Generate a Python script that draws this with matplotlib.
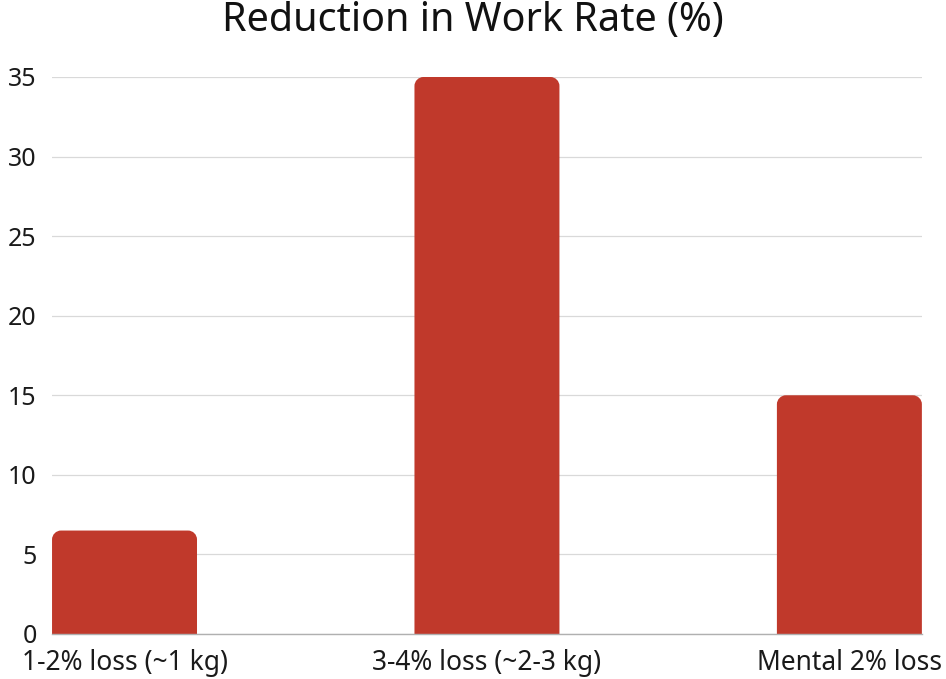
import matplotlib
matplotlib.use('Agg')
import matplotlib.pyplot as plt
from matplotlib.path import Path
from matplotlib.patches import PathPatch

plt.rcParams['font.family'] = ['Noto Sans', 'DejaVu Sans']

# ── data ──────────────────────────────────────────────────────────────
categories = ['1-2% loss (~1 kg)', '3-4% loss (~2-3 kg)', 'Mental 2% loss']
values = [6.5, 35, 15]
yticks = [0, 5, 10, 15, 20, 25, 30, 35]
title = 'Reduction in Work Rate (%)'
bar_color = '#C0392B'

fig = plt.figure(figsize=(9.46, 6.79), dpi=100)
ax = fig.add_axes([0.055, 0.0663, 0.9195, 0.8203])

ax.set_xlim(-0.2, len(categories) - 1 + 0.2)
ax.set_ylim(0, 35)
width = 0.4

# pixel -> data scale for rounded corners
fig.canvas.draw()
bb = ax.get_window_extent()
px_x = (ax.get_xlim()[1] - ax.get_xlim()[0]) / bb.width
px_y = (ax.get_ylim()[1] - ax.get_ylim()[0]) / bb.height
r = 9
rx, ry = r * px_x, r * px_y
k = 0.5523

for i, v in enumerate(values):
    x0, x1 = i - width / 2, i + width / 2
    verts = [(x0, 0), (x0, v - ry),
             (x0, v - ry + k * ry), (x0 + rx - k * rx, v), (x0 + rx, v),
             (x1 - rx, v),
             (x1 - rx + k * rx, v), (x1, v - ry + k * ry), (x1, v - ry),
             (x1, 0), (x0, 0)]
    codes = [Path.MOVETO, Path.LINETO,
             Path.CURVE4, Path.CURVE4, Path.CURVE4,
             Path.LINETO,
             Path.CURVE4, Path.CURVE4, Path.CURVE4,
             Path.LINETO, Path.CLOSEPOLY]
    ax.add_patch(PathPatch(Path(verts, codes), facecolor=bar_color,
                           edgecolor='none', zorder=3))

ax.set_xticks(range(len(categories)))
ax.set_xticklabels(categories, fontsize=19, color='#1a1a1a')
ax.set_yticks(yticks)
ax.set_yticklabels([str(t) for t in yticks], fontsize=18, color='#1a1a1a')
ax.tick_params(axis='both', length=0)
ax.tick_params(axis='y', pad=11)
ax.tick_params(axis='x', pad=10.5)

ax.grid(axis='y', color='#d9d9d9', lw=0.9, zorder=0)
ax.set_axisbelow(True)
for s in ['top', 'right', 'left']:
    ax.spines[s].set_visible(False)
ax.spines['bottom'].set_color('#b0b0b0')
ax.spines['bottom'].set_linewidth(1.0)
ax.spines['bottom'].set_zorder(4)

fig.text(0.5, 1 - 31 / 679, title, ha='center', va='baseline', fontsize=28.5, color='#111111')

plt.savefig('out.png', dpi=100)
